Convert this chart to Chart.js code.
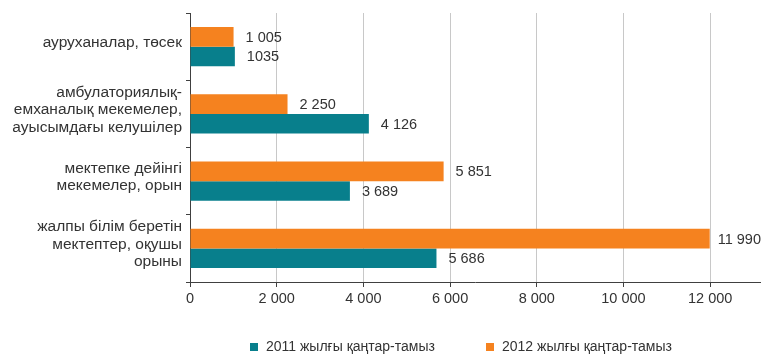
<!DOCTYPE html>
<html>
<head>
<meta charset="utf-8">
<script src="https://cdn.jsdelivr.net/npm/chart.js@4"></script>
<style>
    body { margin: 0; background: #fff; }
    canvas { display: block; }
</style>
</head>
<body>
<canvas id="barChart" width="763" height="354"></canvas>
<script>
// Санаттар мен мәндер
const categories = [
    ['ауруханалар, төсек'],
    ['амбулаториялық-', 'емханалық мекемелер,', 'ауысымдағы келушілер'],
    ['мектепке дейінгі', 'мекемелер, орын'],
    ['жалпы білім беретін', 'мектептер, оқушы', 'орыны']
];
const values2011 = [1035, 4126, 3689, 5686];
const values2012 = [1005, 2250, 5851, 11990];
const labels2011 = ['1035', '4 126', '3 689', '5 686'];
const labels2012 = ['1 005', '2 250', '5 851', '11 990'];
const xTicks = [0, 2000, 4000, 6000, 8000, 10000, 12000];

const seriesNames = ['2012 жылғы қаңтар-тамыз', '2011 жылғы қаңтар-тамыз'];
const colors = ['#f5821f', '#087f8c'];
const textColor = '#333333';
const fontFamily = '"Liberation Sans", Arial, sans-serif';

function formatTick(value) {
    return String(value).replace(/\B(?=(\d{3})+(?!\d))/g, ' ');
}

// Бағандардың оң жағындағы мәндер
const valueLabels = {
    id: 'valueLabels',
    afterDatasetsDraw(chart) {
        const ctx = chart.ctx;
        const texts = [labels2012, labels2011];
        ctx.save();
        ctx.font = '14.5px ' + fontFamily;
        ctx.fillStyle = textColor;
        ctx.textAlign = 'left';
        ctx.textBaseline = 'middle';
        chart.data.datasets.forEach((ds, i) => {
            chart.getDatasetMeta(i).data.forEach((bar, j) => {
                const text = texts[i][j];
                // мәтін кенептен шығып кетпесін
                const x = Math.min(bar.x + 12, chart.width - ctx.measureText(text).width - 2);
                ctx.fillText(text, x, bar.y + 1);
            });
        });
        ctx.restore();
    }
};

// Төменгі шартты белгілер (2011 бірінші)
const bottomLegend = {
    id: 'bottomLegend',
    afterDraw(chart) {
        const ctx = chart.ctx;
        const items = [
            { x: 250, ds: chart.data.datasets[1] },
            { x: 486, ds: chart.data.datasets[0] }
        ];
        ctx.save();
        ctx.font = '14px ' + fontFamily;
        ctx.textBaseline = 'middle';
        ctx.textAlign = 'left';
        items.forEach(item => {
            ctx.fillStyle = item.ds.backgroundColor;
            ctx.fillRect(item.x, 343, 8, 8);
            ctx.fillStyle = textColor;
            ctx.fillText(item.ds.label, item.x + 16, 347);
        });
        ctx.restore();
    }
};

const ctx = document.getElementById('barChart').getContext('2d');
new Chart(ctx, {
    type: 'bar',
    data: {
        labels: categories,
        datasets: [
            {
                label: seriesNames[0],
                data: values2012,
                backgroundColor: colors[0],
                categoryPercentage: 0.58,
                barPercentage: 1
            },
            {
                label: seriesNames[1],
                data: values2011,
                backgroundColor: colors[1],
                categoryPercentage: 0.58,
                barPercentage: 1
            }
        ]
    },
    options: {
        indexAxis: 'y',
        responsive: false,
        animation: false,
        layout: { padding: { top: 13, right: 3, left: 0, bottom: 0 } },
        plugins: {
            legend: { display: false },
            tooltip: { enabled: false }
        },
        scales: {
            x: {
                min: 0,
                max: 13150,
                afterBuildTicks: function(scale) {
                    scale.ticks = xTicks.map(v => ({ value: v }));
                },
                afterFit: function(scale) {
                    scale.height = 72;
                },
                grid: {
                    color: '#c8c8c8',
                    tickColor: '#404040',
                    tickLength: 5,
                    lineWidth: 1
                },
                border: { color: '#404040', width: 1 },
                ticks: {
                    color: textColor,
                    padding: 3,
                    font: { family: fontFamily, size: 14.5 },
                    callback: function(value) {
                        return formatTick(value);
                    }
                }
            },
            y: {
                afterFit: function(scale) {
                    scale.width = 190;
                    // көпжолды белгілер үшін қосымша шегініс қажет емес
                    scale.paddingTop = 0;
                    scale.paddingBottom = 0;
                },
                grid: {
                    offset: true,
                    drawOnChartArea: false,
                    color: '#404040',
                    tickLength: 4
                },
                border: { color: '#404040', width: 1 },
                ticks: {
                    color: textColor,
                    padding: 4,
                    labelOffset: -4,
                    font: { family: fontFamily, size: 15.5, lineHeight: 1.13 }
                }
            }
        }
    },
    plugins: [valueLabels, bottomLegend]
});
</script>
</body>
</html>
